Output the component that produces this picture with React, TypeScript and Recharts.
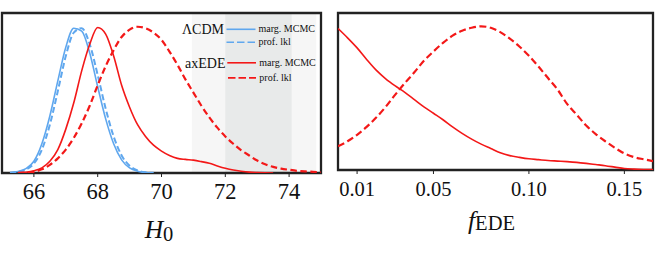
import React from "react";
import {
  ComposedChart,
  Line,
  XAxis,
  YAxis,
  ReferenceArea,
} from "recharts";

// ---------- Data ----------
const h0Grid = [
  65, 65.25, 65.5, 65.75, 66, 66.25, 66.5, 66.75, 67, 67.25, 67.5, 67.75, 68,
  68.25, 68.5, 68.75, 69, 69.25, 69.5, 69.75, 70, 70.25, 70.5, 70.75, 71,
  71.25, 71.5, 71.75, 72, 72.25, 72.5, 72.75, 73, 73.25, 73.5, 73.75, 74,
  74.25, 74.5, 74.75, 75,
];
const N = null;
const lcdmMcmc = [
  N, 0.002, 0.01, 0.03, 0.08, 0.2, 0.39, 0.63, 0.86, 0.99, 0.97, 0.82, 0.59,
  0.37, 0.2, 0.09, 0.035, 0.012, 0.003, 0.0, N, N, N, N, N, N, N, N, N, N, N,
  N, N, N, N, N, N, N, N, N, N,
];
const lcdmProf = [
  N, 0.001, 0.007, 0.024, 0.065, 0.16, 0.33, 0.56, 0.8, 0.96, 0.99, 0.88,
  0.67, 0.44, 0.25, 0.12, 0.05, 0.018, 0.005, 0.001, N, N, N, N, N, N, N, N,
  N, N, N, N, N, N, N, N, N, N, N, N, N,
];
const edeMcmc = [
  N, N, 0.001, 0.005, 0.015, 0.035, 0.08, 0.16, 0.3, 0.48, 0.7, 0.88, 0.995,
  0.95, 0.8, 0.6, 0.45, 0.33, 0.25, 0.19, 0.15, 0.12, 0.1, 0.093, 0.088,
  0.078, 0.066, 0.048, 0.032, 0.02, 0.012, 0.006, 0.003, 0.001, 0.0, N, N, N,
  N, N, N,
];
const edeProf = [
  N, N, 0.001, 0.003, 0.008, 0.025, 0.055, 0.1, 0.16, 0.24, 0.34, 0.46, 0.6,
  0.73, 0.84, 0.93, 0.98, 1.0, 0.99, 0.96, 0.91, 0.83, 0.74, 0.64, 0.55, 0.46,
  0.38, 0.31, 0.25, 0.2, 0.155, 0.12, 0.085, 0.06, 0.042, 0.03, 0.022, 0.015,
  0.011, 0.008, 0.005,
];
const h0Domain = [65, 75];
const h0Ticks = [66, 68, 70, 72, 74];
const shoes2Sigma = [70.95, 74.85];
const shoes1Sigma = [72.0, 74.08];

const fGrid = [
  0, 0.005, 0.01, 0.015, 0.02, 0.025, 0.03, 0.035, 0.04, 0.045, 0.05, 0.055,
  0.06, 0.065, 0.07, 0.075, 0.08, 0.085, 0.09, 0.095, 0.1, 0.105, 0.11, 0.115,
  0.12, 0.125, 0.13, 0.135, 0.14, 0.145, 0.15, 0.155, 0.16, 0.165,
];
const fMcmc = [
  0.985, 0.92, 0.85, 0.77, 0.695, 0.635, 0.585, 0.54, 0.49, 0.44, 0.395, 0.35,
  0.3, 0.255, 0.215, 0.18, 0.15, 0.12, 0.1, 0.088, 0.078, 0.072, 0.066, 0.062,
  0.058, 0.053, 0.046, 0.038, 0.03, 0.02, 0.01, 0.006, 0.004, 0.003,
];
const fProf = [
  0.165, 0.2, 0.245, 0.3, 0.365, 0.44, 0.525, 0.605, 0.68, 0.76, 0.825, 0.885,
  0.935, 0.97, 0.99, 1.0, 0.99, 0.96, 0.915, 0.86, 0.795, 0.72, 0.64, 0.56,
  0.46, 0.385, 0.31, 0.25, 0.2, 0.155, 0.115, 0.09, 0.075, 0.062,
];
const fDomain = [0, 0.165];
const fTicks = [0.01, 0.05, 0.1, 0.15];
const fTickLabels = ["0.01", "0.05", "0.10", "0.15"];

const yDomainLeft = [0, 1.094];
const yDomainRight = [0, 1.093];

const legendGroups = ["\u039BCDM", "axEDE"];
const legendItems = ["marg. MCMC", "prof. lkl"];

// ---------- Tables ----------
const h0Data = h0Grid.map((x, i) => ({
  x,
  lcdmMcmc: lcdmMcmc[i],
  lcdmProf: lcdmProf[i],
  edeMcmc: edeMcmc[i],
  edeProf: edeProf[i],
}));
const fData = fGrid.map((x, i) => ({ x, mcmc: fMcmc[i], prof: fProf[i] }));

// ---------- Styles ----------
const BLUE = "#5fa7ee";
const RED = "#f31818";
const FRAME = "#222222";
const SERIF = "Liberation Serif, Times New Roman, DejaVu Serif, serif";
const serifStyle = { fontFamily: SERIF };

const H0Label = (props: any) => {
  const vb = props.viewBox || { x: 2, y: 173, width: 319, height: 81 };
  const cx = vb.x + vb.width / 2 - 2.5;
  return (
    <text x={cx} y={vb.y + 65.3} textAnchor="middle" style={serifStyle} fill="#111">
      <tspan fontStyle="italic" fontSize={25.5} style={serifStyle}>H</tspan>
      <tspan fontSize={20.5} dy={2.4} style={serifStyle}>0</tspan>
    </text>
  );
};

const FLabel = (props: any) => {
  const vb = props.viewBox || { x: 6, y: 170, width: 315, height: 84 };
  const cx = vb.x + vb.width / 2 - 4;
  return (
    <text x={cx} y={vb.y + 58.5} textAnchor="middle" style={serifStyle} fill="#111">
      <tspan fontStyle="italic" fontSize={25.5} style={serifStyle}>f</tspan>
      <tspan fontSize={20.5} dy={1.5} style={serifStyle}>EDE</tspan>
    </text>
  );
};

export default function App() {
  return (
    <div
      style={{
        position: "absolute",
        left: 0,
        top: 0,
        width: 664,
        height: 254,
        background: "#fff",
        fontFamily: SERIF,
      }}
    >
      <div style={{ position: "absolute", left: 0, top: 0 }}>
        <ComposedChart
          width={332}
          height={254}
          data={h0Data}
          margin={{ top: 13, right: 11, bottom: 0, left: 2 }}
          style={serifStyle}
        >
          <XAxis
            dataKey="x"
            type="number"
            domain={h0Domain}
            ticks={h0Ticks}
            allowDataOverflow
            height={81}
            axisLine={false}
            tickLine={{ stroke: FRAME, strokeWidth: 1 }}
            tickSize={4}
            tickMargin={6}
            tick={{ fontSize: 22.5, fill: "#111", style: serifStyle }}
            label={<H0Label />}
          />
          <YAxis type="number" domain={yDomainLeft} allowDataOverflow hide />
          <ReferenceArea
            x1={shoes2Sigma[0]}
            x2={shoes2Sigma[1]}
            y1={yDomainLeft[0]}
            y2={yDomainLeft[1]}
            fill="#f6f6f6"
            fillOpacity={1}
            stroke="none"
            ifOverflow="hidden"
          />
          <ReferenceArea
            x1={shoes1Sigma[0]}
            x2={shoes1Sigma[1]}
            y1={yDomainLeft[0]}
            y2={yDomainLeft[1]}
            fill="#e8eaea"
            fillOpacity={1}
            stroke="none"
            ifOverflow="hidden"
          />
          <ReferenceArea
            x1={h0Domain[0]}
            x2={h0Domain[1]}
            y1={yDomainLeft[0]}
            y2={yDomainLeft[1]}
            fill="none"
            fillOpacity={0}
            stroke={FRAME}
            strokeWidth={2.3}
            ifOverflow="visible"
          />
          <Line
            dataKey="lcdmMcmc"
            type="monotone"
            stroke={BLUE}
            strokeWidth={1.6}
            dot={false}
            isAnimationActive={false}
          />
          <Line
            dataKey="lcdmProf"
            type="monotone"
            stroke={BLUE}
            strokeWidth={2}
            strokeDasharray="6 3"
            dot={false}
            isAnimationActive={false}
          />
          <Line
            dataKey="edeMcmc"
            type="monotone"
            stroke={RED}
            strokeWidth={1.6}
            dot={false}
            isAnimationActive={false}
          />
          <Line
            dataKey="edeProf"
            type="monotone"
            stroke={RED}
            strokeWidth={2.2}
            strokeDasharray="6.5 3.5"
            dot={false}
            isAnimationActive={false}
          />
        </ComposedChart>
      </div>

      {/* legend overlay */}
      <svg
        width={332}
        height={254}
        style={{ position: "absolute", left: 0, top: 0, pointerEvents: "none" }}
      >
        <g style={serifStyle} fill="#111">
          <text x={224} y={34} fontSize={14} textAnchor="end" style={serifStyle}>
            {legendGroups[0]}
          </text>
          <line x1={226.5} x2={255.5} y1={29.3} y2={29.3} stroke={BLUE} strokeWidth={1.6} />
          <text x={258.5} y={31.5} fontSize={10} style={serifStyle}>
            {legendItems[0]}
          </text>
          <line
            x1={226.5}
            x2={255.5}
            y1={42.3}
            y2={42.3}
            stroke={BLUE}
            strokeWidth={1.6}
            strokeDasharray="7.5 3"
          />
          <text x={258.5} y={45} fontSize={10} style={serifStyle}>
            {legendItems[1]}
          </text>

          <text x={225.5} y={67.5} fontSize={14} textAnchor="end" style={serifStyle}>
            {legendGroups[1]}
          </text>
          <line x1={227.3} x2={256} y1={62.8} y2={62.8} stroke={RED} strokeWidth={1.6} />
          <text x={259.3} y={66} fontSize={10} style={serifStyle}>
            {legendItems[0]}
          </text>
          <line
            x1={228}
            x2={256}
            y1={77.8}
            y2={77.8}
            stroke={RED}
            strokeWidth={1.8}
            strokeDasharray="7.5 3"
          />
          <text x={259.3} y={80.7} fontSize={10} style={serifStyle}>
            {legendItems[1]}
          </text>
        </g>
      </svg>

      <div style={{ position: "absolute", left: 332, top: 0 }}>
        <ComposedChart
          width={332}
          height={254}
          data={fData}
          margin={{ top: 13, right: 11, bottom: 0, left: 6 }}
          style={serifStyle}
        >
          <XAxis
            dataKey="x"
            type="number"
            domain={fDomain}
            ticks={fTicks}
            allowDataOverflow
            height={84}
            axisLine={false}
            tickLine={{ stroke: FRAME, strokeWidth: 1 }}
            tickSize={4}
            tickMargin={7}
            tickFormatter={(v: number) => fTickLabels[fTicks.indexOf(v)] ?? String(v)}
            tick={{ fontSize: 20.5, fill: "#111", style: serifStyle }}
            label={<FLabel />}
          />
          <YAxis type="number" domain={yDomainRight} allowDataOverflow hide />
          <ReferenceArea
            x1={fDomain[0]}
            x2={fDomain[1]}
            y1={yDomainRight[0]}
            y2={yDomainRight[1]}
            fill="none"
            fillOpacity={0}
            stroke={FRAME}
            strokeWidth={2.3}
            ifOverflow="visible"
          />
          <Line
            dataKey="mcmc"
            type="monotone"
            stroke={RED}
            strokeWidth={1.6}
            dot={false}
            isAnimationActive={false}
          />
          <Line
            dataKey="prof"
            type="monotone"
            stroke={RED}
            strokeWidth={2.2}
            strokeDasharray="7 3.5"
            dot={false}
            isAnimationActive={false}
          />
        </ComposedChart>
      </div>
    </div>
  );
}
